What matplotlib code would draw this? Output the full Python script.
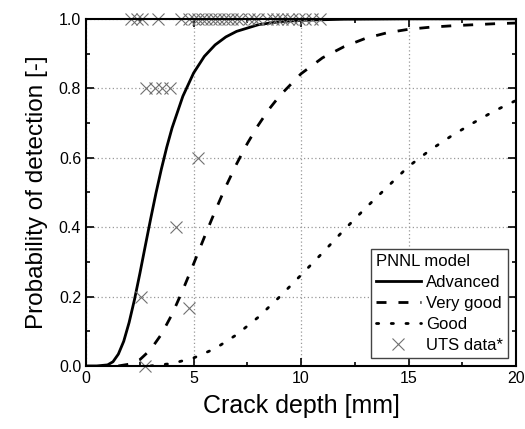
import matplotlib
matplotlib.use("Agg")
import matplotlib.pyplot as plt
from matplotlib.ticker import MultipleLocator

plt.rcParams['font.family'] = ['Liberation Sans', 'DejaVu Sans']

# PNNL model curves
adv_x = [0, 0.5, 1.0, 1.25, 1.5, 1.75, 2.0, 2.25, 2.5, 2.75, 3.0, 3.25, 3.5, 3.75,
         4.0, 4.5, 5.0, 5.5, 6.0, 6.5, 7.0, 8.0, 9.0, 10, 12, 15, 20]
adv_y = [0, 0, 0.003, 0.012, 0.034, 0.071, 0.125, 0.191, 0.266, 0.345, 0.423, 0.498,
         0.567, 0.630, 0.686, 0.777, 0.844, 0.892, 0.925, 0.948, 0.964, 0.983,
         0.992, 0.996, 0.999, 1.0, 1.0]

vg_x = [1.5, 2.0, 2.5, 3.0, 3.5, 4.0, 4.5, 5.0, 5.5, 6.0, 6.5, 7.0, 7.5, 8.0, 8.5,
        9.0, 10, 11, 12, 13, 14, 15, 16, 17, 18, 19, 20]
vg_y = [0, 0.005, 0.018, 0.047, 0.091, 0.149, 0.219, 0.294, 0.371, 0.446, 0.517,
        0.582, 0.641, 0.693, 0.739, 0.778, 0.842, 0.888, 0.920, 0.944, 0.960,
        0.970, 0.976, 0.980, 0.983, 0.986, 0.988]

good_x = [3, 4, 5, 6, 7, 8, 9, 10, 11, 12, 13, 14, 15, 16, 17, 18, 19, 20]
good_y = [0, 0.007, 0.023, 0.050, 0.090, 0.140, 0.199, 0.262, 0.326, 0.392, 0.455,
          0.515, 0.575, 0.622, 0.663, 0.700, 0.735, 0.765]

# UTS measured data
uts_x = [2.1, 2.35, 2.6, 3.35, 4.4, 4.8, 5.0, 5.2, 5.4, 5.6, 5.8, 6.0, 6.2, 6.4, 6.6,
         6.8, 7.0, 7.2, 7.6, 7.8, 8.0, 8.4, 8.7, 8.9, 9.1, 9.4, 9.6, 9.9, 10.2, 10.5,
         10.9,
         2.8, 3.2, 3.55, 3.9, 5.2, 4.2, 2.55, 4.8, 2.75]
uts_y = [1.0] * 31 + [0.8, 0.8, 0.8, 0.8, 0.6, 0.4, 0.2, 0.167, 0.0]

fig, ax = plt.subplots(figsize=(5.25, 4.29), dpi=100)
fig.subplots_adjust(left=0.164, right=0.983, top=0.956, bottom=0.147)

ax.plot(adv_x, adv_y, color='black', lw=2, label='Advanced')
ax.plot(vg_x, vg_y, color='black', lw=2, linestyle=(0, (3.6, 4.3)), label='Very good')
ax.plot(good_x, good_y, color='black', lw=2, linestyle=(0, (0.8, 4.5)),
        dash_capstyle='round', label='Good')
ax.plot(uts_x, uts_y, linestyle='none', marker='x', ms=9, mew=0.8, color='#707070',
        clip_on=False, label='UTS data*')

ax.set_xlim(0, 20)
ax.set_ylim(0, 1.0)
ax.xaxis.set_major_locator(MultipleLocator(5))
ax.xaxis.set_minor_locator(MultipleLocator(2.5))
ax.yaxis.set_major_locator(MultipleLocator(0.2))
ax.yaxis.set_minor_locator(MultipleLocator(0.1))
ax.yaxis.set_major_formatter(plt.FormatStrFormatter('%.1f'))
ax.tick_params(which='both', direction='in', top=True, right=True, labelsize=11.5, width=1.2)
ax.tick_params(which='major', length=6)
ax.tick_params(which='minor', length=3)
ax.grid(True, which='major', color='#999999', linestyle=(0, (1, 2)), lw=0.9)
for s in ax.spines.values():
    s.set_linewidth(1.5)

ax.set_xlabel('Crack depth [mm]', fontsize=18, labelpad=6)
ax.set_ylabel('Probability of detection [-]', fontsize=17.5, labelpad=8)

leg = ax.legend(title='PNNL model', loc='lower right', fontsize=12, title_fontsize=12,
                alignment='left', fancybox=False, edgecolor='#444444', framealpha=1,
                handlelength=2.7, handletextpad=0.3, borderpad=0.3, labelspacing=0.35,
                borderaxespad=0.5)
leg.get_frame().set_linewidth(1.0)

fig.savefig('out.png', dpi=100)
